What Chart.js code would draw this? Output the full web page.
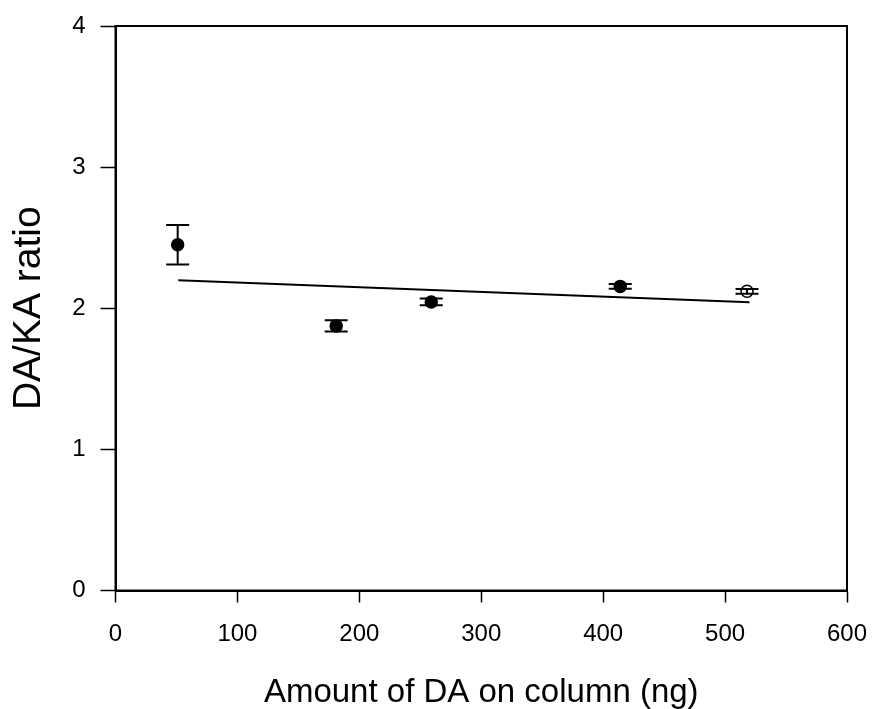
<!DOCTYPE html>
<html>
<head>
<meta charset="utf-8">
<script src="https://cdn.jsdelivr.net/npm/chart.js@4.4.1/dist/chart.umd.min.js"></script>
<style>
  body { margin: 0; background: #fff; }
  #wrap { width: 873px; height: 709px; }
</style>
</head>
<body>
<div id="wrap"><canvas id="grafico" width="873" height="709"></canvas></div>
<script>
// ========== DATOS ==========
const amounts = [51, 181, 259, 414, 518];          // ng de DA en columna
const ratios = [2.45, 1.875, 2.045, 2.155, 2.12];  // DA/KA
const errors = [0.14, 0.04, 0.024, 0.017, 0.017];  // error estandar
const filled = [true, true, true, true, false];    // ultimo punto abierto

const fitX = [51.5, 520];
const fitY = [2.198, 2.043];

const xTicks = [0, 100, 200, 300, 400, 500, 600];
const yTicks = [0, 1, 2, 3, 4];

const fuente = '"Liberation Sans", Arial, sans-serif';

// ========== BARRAS DE ERROR + MARCO ==========
const barrasError = {
  id: 'barrasError',
  afterDatasetsDraw(chart) {
    const ctx = chart.ctx;
    const x = chart.scales.x;
    const y = chart.scales.y;
    ctx.save();
    ctx.strokeStyle = '#000';
    ctx.lineWidth = 2;
    amounts.forEach((a, i) => {
      const px = x.getPixelForValue(a);
      const top = y.getPixelForValue(ratios[i] + errors[i]);
      const bot = y.getPixelForValue(ratios[i] - errors[i]);
      ctx.beginPath();
      ctx.moveTo(px, top);
      ctx.lineTo(px, bot);
      ctx.moveTo(px - 11.5, top);
      ctx.lineTo(px + 11.5, top);
      ctx.moveTo(px - 11.5, bot);
      ctx.lineTo(px + 11.5, bot);
      ctx.stroke();
    });
    // marco completo
    const { left, right, top, bottom } = chart.chartArea;
    ctx.lineWidth = 2;
    ctx.strokeRect(left, top, right - left, bottom - top);
    ctx.restore();
  }
};

new Chart(document.getElementById('grafico'), {
  type: 'scatter',
  data: {
    datasets: [
      {
        type: 'line',
        data: fitX.map((v, i) => ({ x: v, y: fitY[i] })),
        borderColor: '#000',
        borderWidth: 2,
        pointRadius: 0,
        fill: false
      },
      {
        data: amounts.map((v, i) => ({ x: v, y: ratios[i] })),
        pointRadius: 6,
        pointBackgroundColor: filled.map(f => f ? '#000' : 'rgba(0,0,0,0)'),
        pointBorderColor: '#000',
        pointBorderWidth: 1.5
      }
    ]
  },
  options: {
    responsive: false,
    animation: false,
    layout: { padding: { top: 26, right: 26, left: 0, bottom: 0 } },
    plugins: {
      legend: { display: false },
      tooltip: { enabled: false }
    },
    scales: {
      x: {
        type: 'linear',
        min: 0,
        max: 600,
        afterFit(scale) {
          scale.height = 118.5;
          scale.paddingLeft = 0;
          scale.paddingRight = 0;
        },
        afterBuildTicks(scale) { scale.ticks = xTicks.map(v => ({ value: v })); },
        grid: {
          drawOnChartArea: false,
          drawTicks: true,
          tickLength: 12,
          tickColor: '#000',
          tickWidth: 1.5
        },
        border: { display: true, color: '#000', width: 2 },
        ticks: {
          color: '#000',
          padding: 17,
          maxRotation: 0,
          font: { family: fuente, size: 24 }
        },
        title: {
          display: true,
          text: 'Amount of DA on column (ng)',
          color: '#000',
          font: { family: fuente, size: 33, lineHeight: 1 },
          padding: { top: 0, bottom: 0 }
        }
      },
      y: {
        type: 'linear',
        min: 0,
        max: 4,
        afterFit(scale) {
          scale.width = 115.5;
          scale.paddingTop = 0;
          scale.paddingBottom = 0;
        },
        afterBuildTicks(scale) { scale.ticks = yTicks.map(v => ({ value: v })); },
        grid: {
          drawOnChartArea: false,
          drawTicks: true,
          tickLength: 15,
          tickColor: '#000',
          tickWidth: 1.5
        },
        border: { display: true, color: '#000', width: 2 },
        ticks: {
          color: '#000',
          padding: 15,
          font: { family: fuente, size: 24 }
        },
        title: {
          display: true,
          text: 'DA/KA ratio',
          color: '#000',
          font: { family: fuente, size: 39, lineHeight: 1 },
          padding: { top: 10, bottom: 0 }
        }
      }
    }
  },
  plugins: [barrasError]
});
</script>
</body>
</html>
